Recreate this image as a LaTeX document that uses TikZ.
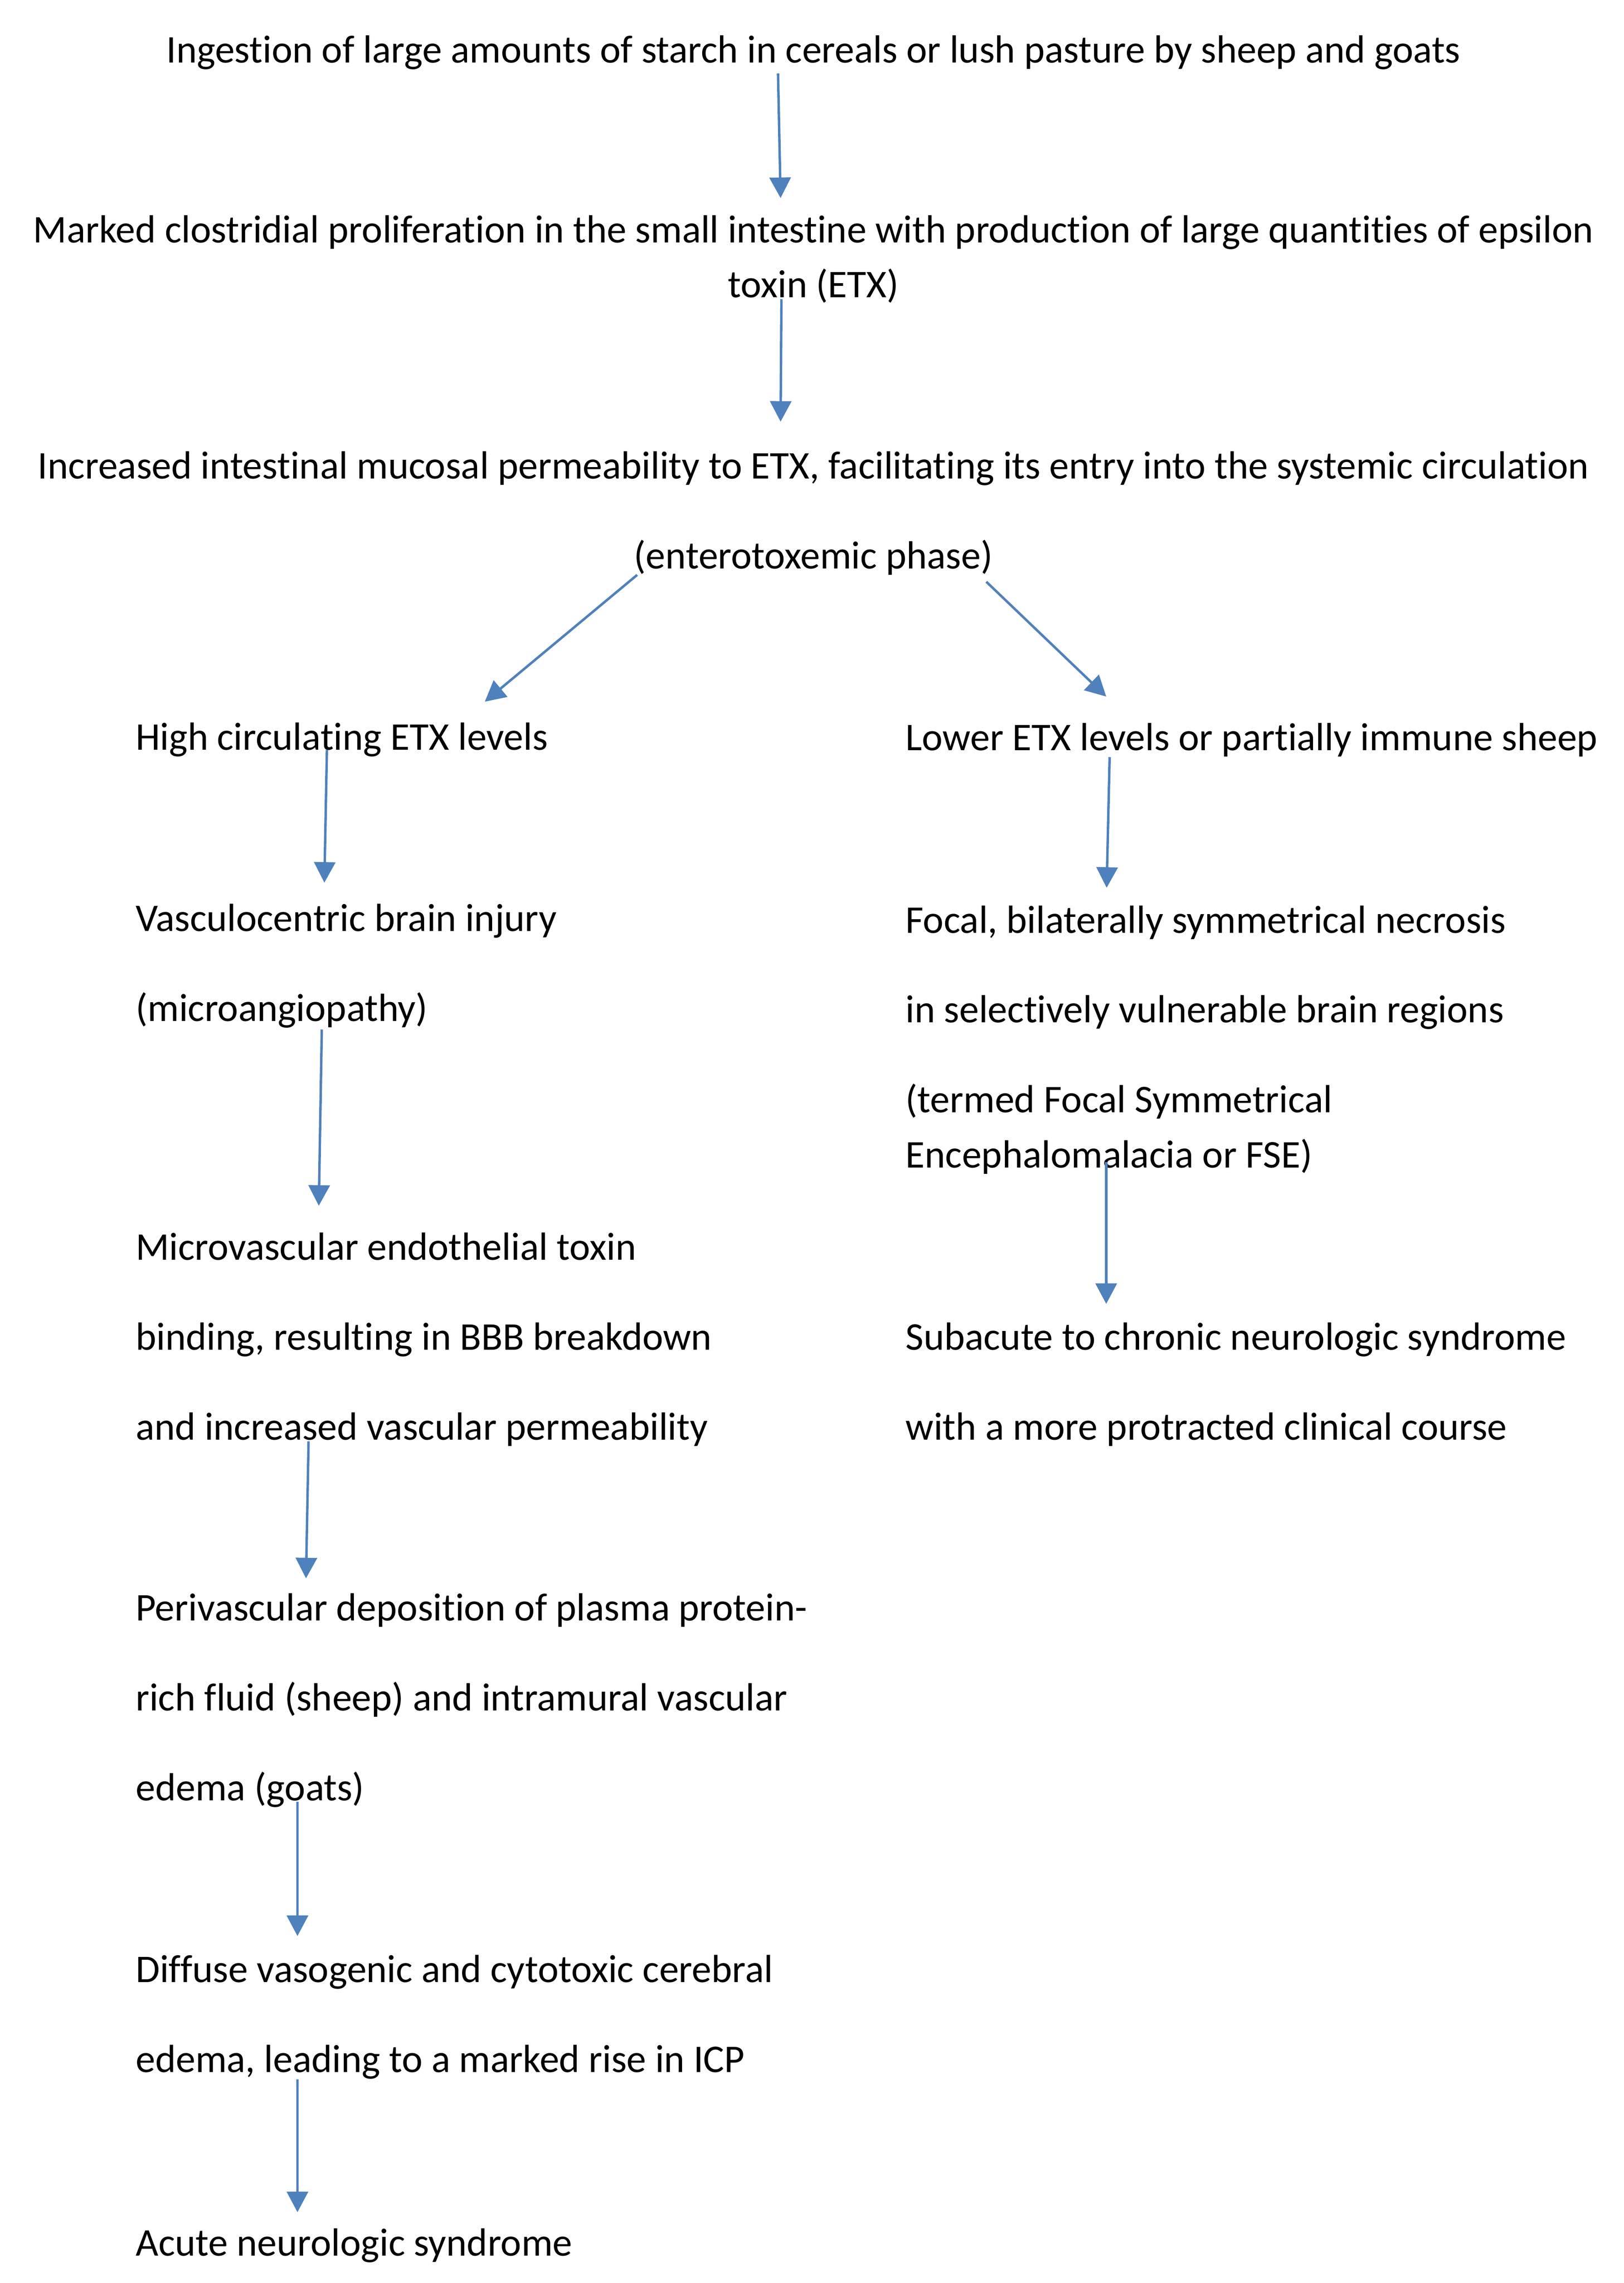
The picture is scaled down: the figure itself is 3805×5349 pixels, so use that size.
\documentclass[tikz,border=0pt]{standalone}
\usepackage{fontspec}
\setmainfont{Carlito}[Ligatures=NoCommon]
\usepackage{xcolor}
\usepackage{tikz}
\usetikzlibrary{
    arrows.meta,
    positioning
}
\definecolor{arrowblue}{HTML}{4F81BD}
\tikzset{
  phase/.style = {
      inner sep=0pt,
      outer sep=0pt,
      font=\fontsize{12.05}{27.6}\selectfont
  },
  centred/.style = {
      phase,
      align=center,
      anchor=base
  },
  column/.style = {
      phase,
      align=left,
      anchor=base west
  },
  flow/.style = {
      draw=arrowblue,
      line width=0.75pt,
      -{Triangle[width=6.5pt,length=6.3pt]}
  }
}

\begin{document}
\begin{tikzpicture}[x=0.131pt, y=-0.131pt]
    \useasboundingbox (0,0) rectangle (3805,5349);
    % Common trunk (nodes sit on the baseline of their last line)
    \node[centred] (ingest) at (1906,147) {Ingestion of large amounts of starch in cereals or lush pasture by sheep and goats};
    \node[centred] (marked) at (1906,697) {Marked clostridial proliferation in the small intestine with production of large quantities of epsilon\\[-10.8pt]toxin (ETX)};
    \node[centred] (incr) at (1906,1332) {Increased intestinal mucosal permeability to ETX, facilitating its entry into the systemic circulation\\(enterotoxemic phase)};
    % Left branch
    \node[column] (high) at (318,1757) {High circulating ETX levels};
    \node[column] (vasc) at (318,2393) {Vasculocentric brain injury\\(microangiopathy)};
    \node[column] (micro) at (318,3374) {Microvascular endothelial toxin\\binding, resulting in BBB breakdown\\and increased vascular permeability};
    \node[column] (peri) at (318,4219) {Perivascular deposition of plasma protein-\\rich fluid (sheep) and intramural vascular\\edema (goats)};
    \node[column] (diffuse) at (318,4855) {Diffuse vasogenic and cytotoxic cerebral\\edema, leading to a marked rise in ICP};
    \node[column] (acute) at (318,5285) {Acute neurologic syndrome};
    % Right branch
    \node[column] (lower) at (2122,1758) {Lower ETX levels or partially immune sheep};
    \node[column] (focal) at (2122,2736) {Focal, bilaterally symmetrical necrosis\\in selectively vulnerable brain regions\\(termed Focal Symmetrical\\[-10.7pt]Encephalomalacia or FSE)};
    \node[column] (subac) at (2122,3374) {Subacute to chronic neurologic syndrome\\with a more protracted clinical course};
    % Arrows
    \draw[flow] ([shift={(-83,25)}]ingest.base) -- ([shift={(-77,-233)}]marked.base);
    \draw[flow] ([shift={(-75,4)}]marked.base) -- ([shift={(-77,-344)}]incr.base);
    \draw[flow] ([shift={(-413,15)}]incr.base) -- ([shift={(818,-113)}]high.base west);
    \draw[flow] ([shift={(405,31)}]incr.base) -- ([shift={(470,-126)}]lower.base west);
    \draw[flow] ([shift={(448,0)}]high.base west) -- ([shift={(442,-325)}]vasc.base west);
    \draw[flow] ([shift={(436,19)}]vasc.base west) -- ([shift={(429,-549)}]micro.base west);
    \draw[flow] ([shift={(405,3)}]micro.base west) -- ([shift={(399,-521)}]peri.base west);
    \draw[flow] ([shift={(379,2)}]peri.base west) -- ([shift={(379,-319)}]diffuse.base west);
    \draw[flow] ([shift={(379,17)}]diffuse.base west) -- ([shift={(379,-102)}]acute.base west);
    \draw[flow] ([shift={(478,16)}]lower.base west) -- ([shift={(471,-656)}]focal.base west);
    \draw[flow] ([shift={(470,-13)}]focal.base west) -- ([shift={(470,-319)}]subac.base west);
\end{tikzpicture}
\end{document}
